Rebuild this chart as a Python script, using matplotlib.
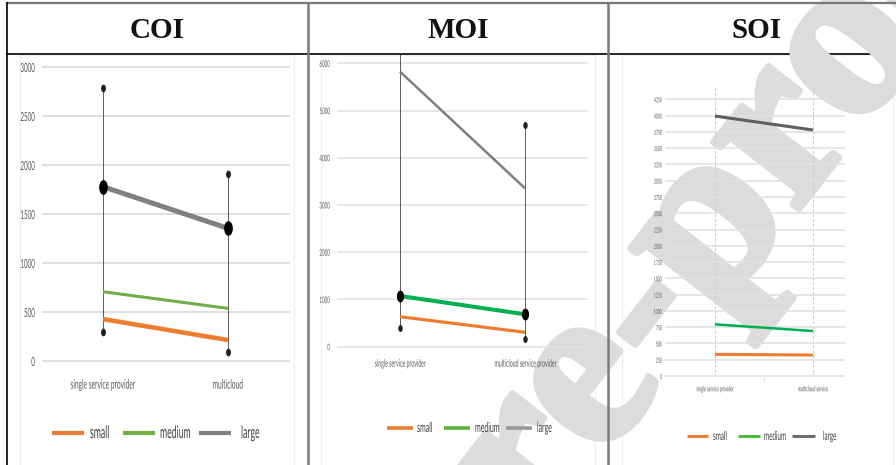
import matplotlib
matplotlib.use('Agg')
import matplotlib.pyplot as plt
import matplotlib.patheffects as pe
import numpy as np
from matplotlib.patheffects import AbstractPathEffect
from matplotlib.transforms import Affine2D
from matplotlib.patches import Rectangle

# ---- data ----
series_names = ['small', 'medium', 'large']

coi_categories = ['single service provider', 'multicloud']
coi_small = [428, 214]
coi_medium = [707, 537]
coi_large = [1779, 1354]
coi_err_low = [296, 95]
coi_err_high = [2786, 1908]
coi_yticks = [0, 500, 1000, 1500, 2000, 2500, 3000]

moi_categories = ['single service provider', 'multicloud service provider']
moi_small = [635, 305]
moi_medium = [1074, 686]
moi_large = [5824, 3354]
moi_err_low = [395, 163]
moi_err_high = [6300, 4694]
moi_yticks = [0, 1000, 2000, 3000, 4000, 5000, 6000]

soi_categories = ['single service provider', 'multicloud service']
soi_small = [333, 322]
soi_medium = [794, 691]
soi_large = [3993, 3778]
soi_yticks = list(range(0, 4251, 250))

titles = ['COI', 'MOI', 'SOI']

W, H = 896, 465
ORANGE = '#ED7D31'
GREY = '#808080'
CHART_FONT = 'Lato'


class Squeeze(AbstractPathEffect):
    """draw text narrower, like the squashed chart pictures"""
    def __init__(self, sx=0.5, anchor='center'):
        super().__init__()
        self.sx = sx
        self.anchor = anchor

    def draw_path(self, renderer, gc, tpath, affine, rgbFace=None):
        ext = tpath.get_extents()
        cx = {'left': 0, 'center': (ext.x0 + ext.x1) / 2, 'right': ext.x1}[self.anchor]
        t = Affine2D().translate(-cx, 0).scale(self.sx, 1).translate(cx, 0) + affine
        renderer.draw_path(gc, tpath, t, rgbFace)


def box(l, t, r, b):
    return [l / W, 1 - b / H, (r - l) / W, (b - t) / H]


def pixel_layer(zorder):
    a = fig.add_axes([0, 0, 1, 1])
    a.set_xlim(0, W)
    a.set_ylim(H, 0)
    a.axis('off')
    a.set_zorder(zorder)
    return a


def ellipse(w=0.55):
    th = np.linspace(0, 2 * np.pi, 40)
    return np.column_stack([w * np.cos(th), np.sin(th)])


def style_axes(ax, cats, yticks, ysize, xsize, ypad, xpad, grid_color, sx=0.5):
    ax.set_facecolor('none')
    ax.set_zorder(1)
    for s in ax.spines.values():
        s.set_visible(False)
    ax.set_xticks(range(len(cats)))
    ax.set_xticklabels(cats, fontsize=xsize, color='#595959', family=CHART_FONT)
    ax.set_yticks(yticks)
    ax.set_yticklabels([str(v) for v in yticks], fontsize=ysize, color='#595959',
                       family=CHART_FONT)
    ax.tick_params(axis='both', length=0)
    ax.tick_params(axis='y', pad=ypad)
    ax.tick_params(axis='x', pad=xpad)
    ax.yaxis.grid(True, color=grid_color, lw=1.2)
    ax.set_axisbelow(True)
    for lbl in ax.get_yticklabels():
        lbl.set_path_effects([Squeeze(sx, 'right')])
    for lbl in ax.get_xticklabels():
        lbl.set_path_effects([Squeeze(sx, 'center')])


def draw_legend(layer, y, keys, text_x, colors, lw, size):
    for (x0, x1), tx, c, name in zip(keys, text_x, colors, series_names):
        layer.plot([x0, x1], [y, y], color=c, lw=lw, solid_capstyle='butt')
        t = layer.text(tx, y, name, fontsize=size, color='#404040', family=CHART_FONT,
                       ha='left', va='center')
        t.set_path_effects([Squeeze(0.5, 'left')])


fig = plt.figure(figsize=(W / 100, H / 100), dpi=100)
fig.patch.set_facecolor('white')

# under layer: header rule and the white chart pictures
under = pixel_layer(0)
under.plot([7, W], [54.5, 54.5], color='black', lw=1.2)
for x0, x1 in [(20, 294), (321, 595), (622, 893)]:
    under.add_patch(Rectangle((x0, 55), x1 - x0, H - 54, facecolor='white',
                              edgecolor='#eeeeee', lw=0.8))

# watermark sits between the pictures and the chart marks
wm = fig.text(705 / W, 1 - 235 / H, 'Pre-proof', rotation=52, rotation_mode='anchor',
              fontsize=170, family='Liberation Serif', weight='bold', color='#dcdcdc',
              ha='center', va='center', zorder=0.5)
wm.set_path_effects([pe.Stroke(linewidth=5, foreground='#dcdcdc'), pe.Normal()])

# over layer: table lines, headers, legends
over = pixel_layer(2)
over.plot([7, W], [3, 3], color='#777777', lw=1.6)
over.plot([7, 7], [3, H], color='black', lw=1.2)
over.plot([307.5, 307.5], [3, H], color='#7a7a7a', lw=1.8)
over.plot([608, 608], [3, H], color='#7a7a7a', lw=1.8)
for title, xc in zip(titles, [157, 458, 757]):
    over.text(xc, 31, title, fontsize=21, family='Liberation Serif', weight='bold',
              ha='center', va='center', color='#111111')

# ---- COI ----
ax1 = fig.add_axes(box(42, 58, 290, 362))
coi_colors = [ORANGE, '#70AD47', GREY]
x = np.arange(len(coi_categories))
ax1.vlines(x, coi_err_low, coi_err_high, color='#404040', lw=0.6, zorder=2)
ax1.plot(x, coi_err_low, ls='none', marker=ellipse(), ms=4.5, color='#202020', zorder=2)
ax1.plot(x, coi_err_high, ls='none', marker=ellipse(), ms=4.5, color='#202020', zorder=2)
for vals, c, lw in zip([coi_small, coi_medium, coi_large], coi_colors, [3.3, 2.2, 3.6]):
    ax1.plot(x, vals, color=c, lw=lw, solid_capstyle='butt', zorder=3)
ax1.plot(x, coi_large, ls='none', marker=ellipse(), ms=9.5, color='black', zorder=4)
ax1.set_xlim(-0.488, 1.496)
ax1.set_ylim(-10, 3092)
style_axes(ax1, coi_categories, coi_yticks, 9, 9.5, 5, 12, '#d9d9d9')
draw_legend(over, 433, [(52, 84), (123, 155), (199, 231)], [90, 160, 241],
            coi_colors, 3.0, 12.5)

# ---- MOI ----
ax2 = fig.add_axes(box(337, 55, 588, 350))
moi_colors = [ORANGE, '#00B050', '#7F7F7F']
x = np.arange(len(moi_categories))
ax2.vlines(x, moi_err_low, moi_err_high, color='#404040', lw=0.6, zorder=2)
ax2.plot(x, moi_err_low, ls='none', marker=ellipse(), ms=4, color='#202020', zorder=2)
ax2.plot(x, moi_err_high, ls='none', marker=ellipse(), ms=4, color='#202020', zorder=2)
for vals, c, lw in zip([moi_small, moi_medium, moi_large], moi_colors, [2.3, 2.9, 1.8]):
    ax2.plot(x, vals, color=c, lw=lw, solid_capstyle='butt', zorder=3)
ax2.plot(x, moi_medium, ls='none', marker=ellipse(), ms=7.5, color='black', zorder=4)
ax2.set_xlim(-0.504, 1.504)
ax2.set_ylim(-70, 6176)
style_axes(ax2, moi_categories, moi_yticks, 6.5, 7.5, 5, 7, '#e3e3e3')
draw_legend(over, 428, [(387, 413), (444, 470), (506, 532)], [417, 475, 537],
            [ORANGE, '#5DB33A', '#9a9a9a'], 2.6, 10)

# ---- SOI ----
ax3 = fig.add_axes(box(665, 87, 845, 377))
soi_colors = [ORANGE, '#00B050', '#5F5F5F']
x = np.arange(len(soi_categories))
for vals, c, lw in zip([soi_small, soi_medium, soi_large], soi_colors, [2.2, 1.8, 2.2]):
    ax3.plot(x, vals, color=c, lw=lw, solid_capstyle='butt', zorder=3)
ax3.set_xlim(-0.51, 1.327)
ax3.set_ylim(-15, 4439)
style_axes(ax3, soi_categories, soi_yticks, 5, 5.5, 2, 6, '#dde1ea')
ax3.xaxis.grid(True, color='#c5cad6', lw=0.7, ls=(0, (3, 2)))
ax3.set_xticks([0.5], minor=True)
ax3.tick_params(axis='x', which='minor', length=3, color='#d0d0d0')
draw_legend(over, 436, [(687, 708), (738, 760), (792, 815)], [713, 764, 823],
            [ORANGE, '#4CBB3A', '#6f6f6f'], 2.2, 9)

fig.savefig('out.png', dpi=100, facecolor='white')
